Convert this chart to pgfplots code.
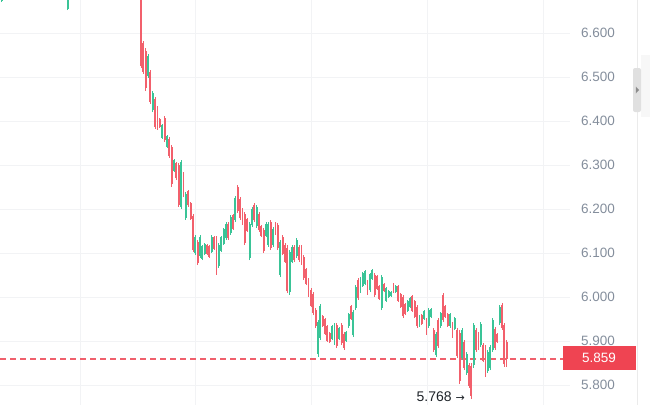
\documentclass[border=0pt]{standalone}
\usepackage{pgfplots}
\pgfplotsset{compat=1.18}
\usepackage{pgfplotstable}
\usepackage{fontspec}
\setmainfont{Liberation Sans}
\newfontfamily\symfont{DejaVu Sans}

\definecolor{up}{HTML}{3AC497}
\definecolor{down}{HTML}{F2606C}
\definecolor{gridc}{HTML}{F2F3F5}
\definecolor{ticklab}{HTML}{848E9C}
\definecolor{boxred}{HTML}{EF4452}
\definecolor{dashred}{HTML}{F0606C}
\definecolor{annot}{HTML}{1E2329}

% index o h l c
\pgfplotstableread{
x o h l c
-59 6.672 6.710 6.670 6.700
-31 6.655 6.710 6.652 6.700
0 6.715 6.720 6.520 6.525
1 6.578 6.582 6.507 6.512
2 6.560 6.566 6.468 6.475
3 6.502 6.552 6.498 6.548
4 6.511 6.516 6.439 6.444
5 6.424 6.468 6.420 6.463
6 6.450 6.455 6.382 6.387
7 6.430 6.434 6.380 6.385
8 6.405 6.407 6.384 6.386
9 6.362 6.393 6.359 6.390
10 6.406 6.411 6.352 6.356
11 6.342 6.368 6.339 6.365
12 6.360 6.364 6.316 6.320
13 6.340 6.345 6.250 6.256
14 6.287 6.314 6.284 6.311
15 6.304 6.307 6.266 6.270
16 6.300 6.305 6.205 6.210
17 6.205 6.311 6.200 6.306
18 6.280 6.284 6.227 6.232
19 6.180 6.239 6.175 6.234
20 6.240 6.243 6.205 6.208
21 6.213 6.216 6.175 6.178
22 6.184 6.189 6.102 6.107
23 6.099 6.141 6.095 6.137
24 6.126 6.130 6.073 6.077
25 6.093 6.141 6.089 6.137
26 6.087 6.118 6.084 6.115
27 6.098 6.123 6.095 6.120
28 6.118 6.120 6.095 6.098
29 6.115 6.118 6.089 6.092
30 6.103 6.141 6.100 6.137
31 6.136 6.139 6.107 6.110
32 6.134 6.139 6.050 6.055
33 6.070 6.123 6.066 6.118
34 6.105 6.139 6.102 6.136
35 6.121 6.157 6.118 6.154
36 6.134 6.170 6.130 6.166
37 6.166 6.170 6.130 6.134
38 6.145 6.186 6.141 6.182
39 6.186 6.189 6.152 6.155
40 6.175 6.230 6.170 6.225
41 6.250 6.255 6.191 6.196
42 6.223 6.227 6.175 6.179
43 6.199 6.202 6.164 6.168
44 6.188 6.193 6.118 6.123
45 6.177 6.180 6.148 6.151
46 6.089 6.170 6.084 6.166
47 6.163 6.205 6.159 6.201
48 6.210 6.214 6.170 6.174
49 6.161 6.209 6.157 6.205
50 6.189 6.193 6.148 6.152
51 6.161 6.164 6.136 6.139
52 6.152 6.157 6.100 6.105
53 6.139 6.170 6.136 6.166
54 6.118 6.170 6.114 6.166
55 6.170 6.175 6.107 6.111
56 6.118 6.159 6.114 6.155
57 6.166 6.170 6.141 6.143
58 6.164 6.168 6.107 6.111
59 6.050 6.130 6.045 6.125
60 6.137 6.141 6.095 6.098
61 6.119 6.123 6.077 6.080
62 6.112 6.118 6.009 6.014
63 6.011 6.107 6.005 6.102
64 6.080 6.118 6.077 6.114
65 6.114 6.118 6.080 6.084
66 6.093 6.134 6.089 6.130
67 6.114 6.118 6.080 6.084
68 6.114 6.118 6.073 6.077
69 6.091 6.095 6.039 6.043
70 6.063 6.066 6.027 6.030
71 6.039 6.043 6.000 6.004
72 6.016 6.020 5.977 5.980
73 6.007 6.011 5.959 5.964
74 5.971 5.975 5.930 5.934
75 5.870 5.948 5.864 5.943
76 5.907 5.984 5.902 5.979
77 5.957 5.959 5.932 5.934
78 5.950 5.952 5.914 5.917
79 5.933 5.936 5.898 5.901
80 5.918 5.920 5.895 5.897
81 5.905 5.936 5.902 5.933
82 5.895 5.941 5.891 5.937
83 5.937 5.941 5.884 5.888
84 5.905 5.932 5.902 5.929
85 5.937 5.941 5.891 5.895
86 5.917 5.920 5.880 5.884
87 5.900 5.923 5.898 5.920
88 5.933 5.964 5.930 5.961
89 5.979 5.982 5.948 5.951
90 5.913 5.970 5.909 5.966
91 5.975 6.027 5.970 6.023
92 6.039 6.043 5.993 5.997
93 6.012 6.045 6.009 6.042
94 6.026 6.057 6.023 6.054
95 6.030 6.061 6.027 6.058
96 6.036 6.039 6.005 6.008
97 6.015 6.055 6.011 6.052
98 6.041 6.064 6.039 6.062
99 6.050 6.055 6.000 6.004
100 6.047 6.050 6.016 6.019
101 6.024 6.027 5.993 5.996
102 5.975 6.050 5.970 6.045
103 6.030 6.032 6.011 6.013
104 5.992 6.023 5.989 6.020
105 6.000 6.016 5.998 6.014
106 6.002 6.014 6.000 6.012
107 6.030 6.032 6.009 6.011
108 6.011 6.027 6.009 6.025
109 6.024 6.027 5.989 5.992
110 6.006 6.009 5.975 5.978
111 6.001 6.005 5.952 5.956
112 5.984 5.986 5.959 5.961
113 5.968 5.993 5.966 5.991
114 5.977 6.000 5.975 5.998
115 6.002 6.005 5.966 5.969
116 5.990 5.993 5.952 5.955
117 5.978 5.982 5.930 5.934
118 5.934 5.959 5.932 5.957
119 5.959 5.961 5.936 5.938
120 5.950 5.970 5.948 5.968
121 5.949 5.952 5.914 5.917
122 5.934 5.975 5.930 5.971
123 5.954 5.975 5.952 5.973
124 5.926 5.930 5.875 5.880
125 5.868 5.920 5.864 5.916
126 5.947 5.952 5.884 5.889
127 5.933 5.966 5.930 5.963
128 6.004 6.009 5.943 5.948
129 5.979 5.982 5.952 5.955
130 5.961 5.964 5.932 5.935
131 5.933 5.964 5.930 5.961
132 5.940 5.943 5.907 5.910
133 5.928 5.955 5.925 5.952
134 5.925 5.930 5.861 5.866
135 5.918 5.925 5.802 5.810
136 5.862 5.930 5.857 5.925
137 5.898 5.902 5.834 5.839
138 5.827 5.875 5.823 5.871
139 5.846 5.850 5.793 5.798
140 5.844 5.850 5.768 5.775
141 5.845 5.941 5.839 5.936
142 5.926 5.930 5.875 5.879
143 5.917 5.920 5.880 5.884
144 5.890 5.943 5.886 5.939
145 5.892 5.895 5.852 5.855
146 5.886 5.891 5.818 5.823
147 5.831 5.880 5.827 5.876
148 5.838 5.891 5.834 5.887
149 5.880 5.952 5.875 5.947
150 5.928 5.932 5.880 5.884
151 5.916 5.918 5.895 5.897
152 5.940 5.982 5.936 5.978
153 5.982 5.986 5.925 5.930
154 5.936 5.941 5.841 5.847
155 5.898 5.902 5.841 5.859
}\candles

\pgfplotsset{
  wick/.style={draw=none, mark=none, forget plot,
    error bars/.cd, y dir=plus, y explicit, error mark=none,
    error bar style={line width=0.8bp, draw=#1}, /pgfplots/.cd},
  body/.style={draw=none, mark=none, forget plot,
    error bars/.cd, y dir=plus, y explicit, error mark=none,
    error bar style={line width=1.9bp, draw=#1}, /pgfplots/.cd},
}

\begin{document}
\begin{tikzpicture}[x=1bp,y=1bp]
\useasboundingbox (0,0) rectangle (650,405);
\begin{axis}[
  at={(0,0)}, anchor=south west,
  width=570bp, height=405bp, scale only axis,
  xmin=-59.75, xmax=181.8,
  ymin=5.7545, ymax=6.675,
  axis line style={draw=none},
  major tick length=0pt,
  xtick={-25.85,22.88,72.03,121.19,170.34},
  xticklabels={},
  ytick={5.8,5.9,6.0,6.1,6.2,6.3,6.4,6.5,6.6},
  yticklabel pos=right,
  yticklabel style={anchor=west, xshift=7.5bp, text=ticklab,
    font=\fontsize{13.5bp}{16bp}\selectfont},
  /pgf/number format/.cd, fixed, fixed zerofill, precision=3,
    assume math mode=true, /pgfplots/.cd,
  grid=major, grid style={gridc, line width=0.9bp},
]
% last price line
\addplot[color=dashred, mark=none, line width=1.2bp, dash pattern=on 6bp off 4bp, forget plot]
  coordinates {(-59.75,5.859) (178.8,5.859)};
% wicks
\addplot[wick=up, restrict expr to domain={\thisrow{c}-\thisrow{o}}{0:10}]
  table[x=x, y=l, y error expr={\thisrow{h}-\thisrow{l}}] {\candles};
\addplot[wick=down, restrict expr to domain={\thisrow{o}-\thisrow{c}}{0:10}]
  table[x=x, y=l, y error expr={\thisrow{h}-\thisrow{l}}] {\candles};
% bodies
\addplot[body=up, restrict expr to domain={\thisrow{c}-\thisrow{o}}{0:10}]
  table[x=x, y=o, y error expr={\thisrow{c}-\thisrow{o}}] {\candles};
\addplot[body=down, restrict expr to domain={\thisrow{o}-\thisrow{c}}{0:10}]
  table[x=x, y=c, y error expr={\thisrow{o}-\thisrow{c}}] {\candles};
\node[anchor=east, text=annot, inner sep=0pt,
  font=\fontsize{14bp}{16bp}\selectfont]
  at (axis cs:137.3,5.773) {5.768 {\symfont\fontsize{11bp}{11bp}\selectfont →}};
\end{axis}
% price tag
\fill[boxred] (563,35) rectangle (636,59);
\node[anchor=west, inner sep=0pt, text=white,
  font=\fontsize{13.5bp}{16bp}\selectfont] at (582,47) {5.859};
% right panel edge and handle
\draw[color=black!8, line width=1bp] (637.5,0) -- (637.5,405);
\fill[color=black!3] (641,288) rectangle (650,350);
\fill[color=black!12, rounded corners=2bp] (633,293) rectangle (641,337);
\fill[color=black!45] (635.8,318.5) -- (639,315) -- (635.8,311.5) -- cycle;
\end{tikzpicture}
\end{document}
